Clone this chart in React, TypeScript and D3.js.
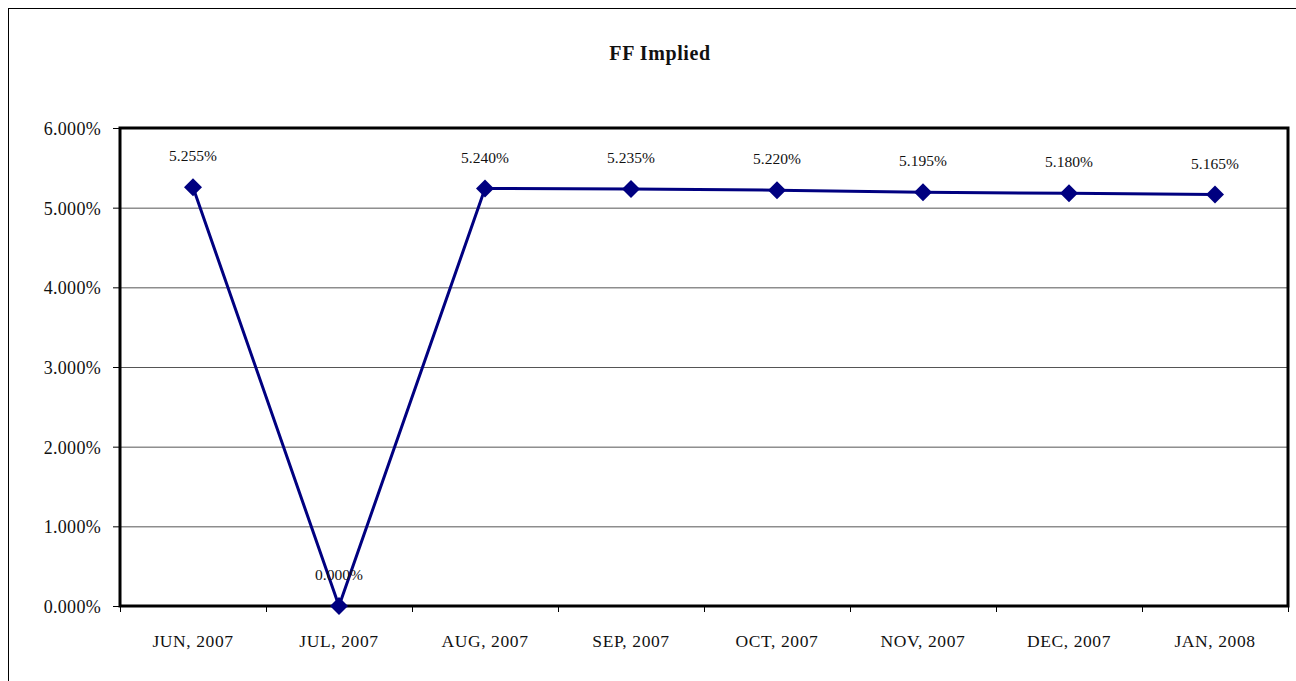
import { scaleLinear, scaleBand, line as d3_line } from "d3"

const categories = ["JUN, 2007", "JUL, 2007", "AUG, 2007", "SEP, 2007", "OCT, 2007", "NOV, 2007", "DEC, 2007", "JAN, 2008"]
const values = [5.255, 0.0, 5.24, 5.235, 5.22, 5.195, 5.18, 5.165]
const yTicks = [0, 1, 2, 3, 4, 5, 6]
const title = "FF Implied"

const W = 1296
const H = 681
const plot = { left: 120, top: 128, right: 1288, bottom: 606 }
const font = "'Liberation Serif', 'DejaVu Serif', serif"

export default function App() {
  let x = scaleBand<string>().domain(categories).range([plot.left, plot.right])
  let y = scaleLinear().domain([0, 6]).range([plot.bottom, plot.top])

  let cx = (c: string) => (x(c) ?? 0) + x.bandwidth() / 2

  let line = d3_line<number>()
    .x((_, i) => cx(categories[i]))
    .y((d) => y(d))

  let boundaries = categories.map((c) => x(c) ?? 0).concat([plot.right])

  return (
    <svg
      width={W}
      height={H}
      style={{ position: "absolute", left: 0, top: 0, background: "#fff" }}
      fontFamily={font}
      fill="#111"
    >
      {/* outer chart frame */}
      <rect x={8.5} y={8.5} width={W} height={H} fill="#fff" stroke="#000" strokeWidth={1} />

      <text x={W / 2 + 12} y={60} textAnchor="middle" fontSize={20} fontWeight="bold" letterSpacing={0.6}>
        {title}
      </text>

      {/* grid lines */}
      {yTicks.slice(1, -1).map((t) => (
        <line key={t} x1={plot.left} x2={plot.right} y1={y(t) + 0.5} y2={y(t) + 0.5} stroke="#555" strokeWidth={1} />
      ))}

      {/* y ticks and labels */}
      {yTicks.map((t) => (
        <g key={t}>
          <line x1={plot.left - 7} x2={plot.left} y1={y(t) + 0.5} y2={y(t) + 0.5} stroke="#000" />
          <text x={101} y={y(t) + 7} textAnchor="end" fontSize={18} letterSpacing={0.3}>
            {t.toFixed(3)}%
          </text>
        </g>
      ))}

      {/* x ticks */}
      {boundaries.map((b, i) => (
        <line key={i} x1={b + 0.5} x2={b + 0.5} y1={plot.bottom} y2={plot.bottom + 6} stroke="#000" />
      ))}
      {categories.map((c) => (
        <text key={c} x={cx(c)} y={647} textAnchor="middle" fontSize={17.5} letterSpacing={0.6}>
          {c}
        </text>
      ))}

      {/* plot frame */}
      <rect
        x={plot.left}
        y={plot.top}
        width={plot.right - plot.left}
        height={plot.bottom - plot.top}
        fill="none"
        stroke="#000"
        strokeWidth={3}
      />

      {/* series */}
      <path d={line(values) ?? ""} fill="none" stroke="#000080" strokeWidth={3} strokeLinejoin="round" />
      {values.map((v, i) => {
        let px = cx(categories[i])
        let py = y(v)
        let r = 9
        return (
          <path
            key={i}
            d={`M ${px} ${py - r} L ${px + r} ${py} L ${px} ${py + r} L ${px - r} ${py} Z`}
            fill="#000080"
          />
        )
      })}

      {/* data labels */}
      {values.map((v, i) => (
        <text key={i} x={cx(categories[i])} y={y(v) - 26} textAnchor="middle" fontSize={15.5}>
          {v.toFixed(3)}%
        </text>
      ))}
    </svg>
  )
}
